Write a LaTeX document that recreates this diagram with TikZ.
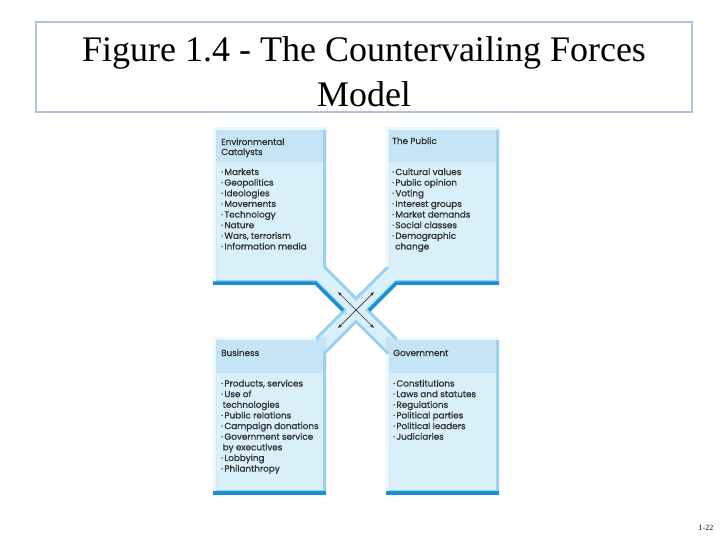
\documentclass[tikz,border=0pt]{standalone}
\usepackage{fontspec}
\setmainfont{Poppins}
\newfontfamily\boxfont{Poppins}[FakeBold=0.9]
\newfontfamily\titlefont{Liberation Serif}
\usetikzlibrary{arrows.meta}
\definecolor{bodyc}{RGB}{217,239,250}
\definecolor{headc}{RGB}{197,229,246}
\definecolor{edgec}{RGB}{155,209,239}
\definecolor{darkc}{RGB}{24,142,214}
\definecolor{lightc}{RGB}{236,247,253}
\definecolor{titleborder}{RGB}{170,196,220}
\definecolor{arrowc}{RGB}{50,50,50}
\definecolor{txtc}{RGB}{48,48,48}
\newcommand\mybul{·\hspace{1.4pt}}
\begin{document}
\begin{tikzpicture}[x=1pt,y=-1pt,
  txt/.style={anchor=base west, inner sep=0pt, font=\boxfont\fontsize{8.8}{10}\selectfont, text=txtc},
  arr/.style={{Stealth[length=4.5pt,width=3.2pt]}-{Stealth[length=4.5pt,width=3.2pt]}, line width=0.7pt, draw=arrowc},
  darkline/.style={draw=darkc, line width=3.5pt},
  lightline/.style={draw=lightc, line width=3pt}]
\useasboundingbox (0,0) rectangle (728,546);
\fill[white] (0,0) rectangle (728,546);
% title
\draw[titleborder, line width=1.2pt] (36,22) rectangle (692,112);
\node[anchor=base, inner sep=0pt, font=\titlefont\fontsize{36}{40}\selectfont] (t1) at (364,61) {Figure 1.4 - The Countervailing Forces};
\node[anchor=base, inner sep=0pt, font=\titlefont\fontsize{36}{40}\selectfont] (t2) at (364,106) {Model};
% shape body
\fill[bodyc] (213,127) -- (326,127) -- (326,266.5) -- (356,296.5) -- (386,266.5) -- (386,127) -- (499,127) -- (499,283) -- (396.5,283) -- (369.5,310) -- (396.5,337) -- (499,337) -- (499,493) -- (386,493) -- (386,353.5) -- (356,323.5) -- (326,353.5) -- (326,493) -- (213,493) -- (213,337) -- (315.5,337) -- (342.5,310) -- (315.5,283) -- (213,283) -- cycle;
% headers
\fill[headc] (213,127) rectangle (326,162);
\fill[headc] (386,127) rectangle (499,162);
\fill[headc] (213,337) rectangle (326,373);
\fill[headc] (386,337) rectangle (499,373);
% inner edges
\begin{scope}
\clip (213,127) -- (326,127) -- (326,266.5) -- (356,296.5) -- (386,266.5) -- (386,127) -- (499,127) -- (499,283) -- (396.5,283) -- (369.5,310) -- (396.5,337) -- (499,337) -- (499,493) -- (386,493) -- (386,353.5) -- (356,323.5) -- (326,353.5) -- (326,493) -- (213,493) -- (213,337) -- (315.5,337) -- (342.5,310) -- (315.5,283) -- (213,283) -- cycle;
\draw[edgec, line width=6pt] (213,127) -- (326,127) -- (326,266.5) -- (356,296.5) -- (386,266.5) -- (386,127) -- (499,127) -- (499,283) -- (396.5,283) -- (369.5,310) -- (396.5,337) -- (499,337) -- (499,493) -- (386,493) -- (386,353.5) -- (356,323.5) -- (326,353.5) -- (326,493) -- (213,493) -- (213,337) -- (315.5,337) -- (342.5,310) -- (315.5,283) -- (213,283) -- cycle;
\draw[lightline] (214.5,127) -- (214.5,283);
\draw[lightline] (387.5,127) -- (387.5,266.5);
\draw[lightline] (214.5,337) -- (214.5,493);
\draw[lightline] (387.5,353.5) -- (387.5,493);
\draw[lightline] (213,128.5) -- (326,128.5);
\draw[lightline] (386,128.5) -- (499,128.5);
\draw[lightline] (213,338.5) -- (315.5,338.5);
\draw[lightline] (396.5,338.5) -- (499,338.5);
\end{scope}
% dark bottom lines
\draw[darkline] (213,283) -- (315.5,283) -- (343,310.5);
\draw[darkline] (499,283) -- (396.5,283) -- (369,310.5);
\draw[darkline] (213,493) -- (326,493);
\draw[darkline] (386,493) -- (499,493);
% arrows
\coordinate (a1) at (338,292);
\coordinate (a2) at (374,328);
\coordinate (a3) at (374,292);
\coordinate (a4) at (338,328);
\draw[arr] (a1) -- (a2);
\draw[arr] (a3) -- (a4);
% texts: Environmental Catalysts
\node[txt] (tlh1) at (221,145) {Environmental};
\node[txt] (tlh2) at (221,155) {Catalysts};
\foreach \t [count=\i] in {{\mybul Markets},{\mybul Geopolitics},{\mybul Ideologies},{\mybul Movements},{\mybul Technology},{\mybul Nature},{\mybul Wars, terrorism},{\mybul Information media}}
  \node[txt] (tl\i) at (221,{175+(\i-1)*10.64}) {\t};
% The Public
\node[txt] (trh1) at (392,144) {The Public};
\foreach \t [count=\i] in {{\mybul Cultural values},{\mybul Public opinion},{\mybul Voting},{\mybul Interest groups},{\mybul Market demands},{\mybul Social classes},{\mybul Demographic},{\hspace{3pt}change}}
  \node[txt] (tr\i) at (392,{175+(\i-1)*10.64}) {\t};
% Business
\node[txt] (blh1) at (221,356) {Business};
\foreach \t [count=\i] in {{\mybul Products, services},{\mybul Use of},{\hspace{1.5pt}technologies},{\mybul Public relations},{\mybul Campaign donations},{\mybul Government service},{\hspace{1.5pt}by executives},{\mybul Lobbying},{\mybul Philanthropy}}
  \node[txt] (bl\i) at (221,{386.5+(\i-1)*10.64}) {\t};
% Government
\node[txt] (brh1) at (393,356) {Government};
\foreach \t [count=\i] in {{\mybul Constitutions},{\mybul Laws and statutes},{\mybul Regulations},{\mybul Political parties},{\mybul Political leaders},{\mybul Judiciaries}}
  \node[txt] (br\i) at (393,{386.5+(\i-1)*10.64}) {\t};
% page number
\node[anchor=base, inner sep=0pt, font=\titlefont\fontsize{8}{9}\selectfont] (pg) at (706,530) {1-22};
\end{tikzpicture}
\end{document}
